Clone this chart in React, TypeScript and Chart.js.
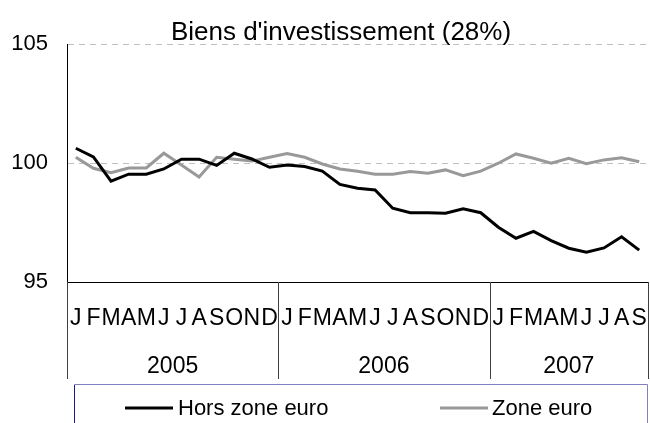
import React, { useEffect, useRef } from "react";
import { Chart, registerables } from "chart.js";

Chart.register(...registerables);

const TITLE = "Biens d'investissement (28%)";
const MONTHS = ["J", "F", "M", "A", "M", "J", "J", "A", "S", "O", "N", "D"];
const YEARS = ["2005", "2006", "2007"];
const MONTHS_PER_YEAR = [12, 12, 9];
const Y_TICKS = [95, 100, 105];

const horsZoneEuro = [
  100.62, 100.26, 99.24, 99.53, 99.53, 99.75, 100.16, 100.16, 99.9, 100.41, 100.17, 99.82,
  99.92, 99.85, 99.66, 99.1, 98.94, 98.87, 98.1, 97.91, 97.91, 97.89, 98.08, 97.91,
  97.3, 96.84, 97.13, 96.74, 96.42, 96.25, 96.43, 96.9, 96.34,
];
const zoneEuro = [
  100.24, 99.78, 99.59, 99.79, 99.79, 100.41, 99.92, 99.41, 100.24, 100.16, 100.08, 100.24,
  100.4, 100.24, 99.96, 99.75, 99.65, 99.53, 99.53, 99.64, 99.57, 99.71, 99.47, 99.66,
  99.99, 100.38, 100.2, 99.99, 100.2, 99.97, 100.13, 100.22, 100.05,
];
const SERIES_NAMES = ["Hors zone euro", "Zone euro"];

const labels: string[] = [];
YEARS.forEach((y, yi) => {
  for (let m = 0; m < MONTHS_PER_YEAR[yi]; m++) labels.push(MONTHS[m] + " " + y);
});

const FONT = '"Liberation Sans", Arial, sans-serif';

const deco = {
  id: "deco",
  afterDraw(chart: any) {
    const ctx = chart.ctx;
    const xs = chart.scales.x;
    const area = chart.chartArea;
    ctx.save();
    ctx.fillStyle = "#000";
    // title
    ctx.font = "26px " + FONT;
    ctx.textAlign = "center";
    ctx.textBaseline = "alphabetic";
    ctx.fillText(TITLE, 341, 40);
    // month labels
    ctx.font = "23px " + FONT;
    let idx = 0;
    const bounds: number[] = [area.left];
    YEARS.forEach((y, yi) => {
      const start = idx;
      for (let m = 0; m < MONTHS_PER_YEAR[yi]; m++) {
        ctx.fillText(MONTHS[m], xs.getPixelForValue(idx), 325);
        idx++;
      }
      const end = idx - 1;
      const half = (xs.getPixelForValue(1) - xs.getPixelForValue(0)) / 2;
      const right = xs.getPixelForValue(end) + half;
      bounds.push(right);
      const left = xs.getPixelForValue(start) - half;
      ctx.fillText(y, (left + right) / 2, 373);
    });
    // separators
    ctx.strokeStyle = "#404040";
    ctx.lineWidth = 1;
    bounds.forEach((b) => {
      const x = Math.round(b) + 0.5;
      ctx.beginPath();
      ctx.moveTo(x, area.bottom);
      ctx.lineTo(x, 379);
      ctx.stroke();
    });
    // legend box
    ctx.strokeStyle = "#8080c0";
    ctx.beginPath();
    ctx.moveTo(74.5, 430);
    ctx.lineTo(74.5, 384.5);
    ctx.lineTo(647.5, 384.5);
    ctx.lineTo(647.5, 430);
    ctx.stroke();
    ctx.strokeStyle = "#1a1a8c";
    ctx.beginPath();
    ctx.moveTo(74.5, 385);
    ctx.lineTo(74.5, 430);
    ctx.stroke();
    // legend entries
    const items = [
      { x0: 125, x1: 173, tx: 178, color: "#000000", name: SERIES_NAMES[0] },
      { x0: 440, x1: 488, tx: 492, color: "#999999", name: SERIES_NAMES[1] },
    ];
    ctx.font = "22px " + FONT;
    ctx.textAlign = "left";
    items.forEach((it) => {
      ctx.strokeStyle = it.color;
      ctx.lineWidth = 3;
      ctx.beginPath();
      ctx.moveTo(it.x0, 408);
      ctx.lineTo(it.x1, 408);
      ctx.stroke();
      ctx.fillStyle = "#000";
      ctx.fillText(it.name, it.tx, 415);
    });
    ctx.restore();
  },
};

export default function App() {
  const ref = useRef<HTMLCanvasElement>(null);
  useEffect(() => {
    document.body.style.margin = "0";
    const chart = new Chart(ref.current as HTMLCanvasElement, {
      type: "line",
      data: {
        labels,
        datasets: [
          {
            label: SERIES_NAMES[0],
            data: horsZoneEuro,
            borderColor: "#000000",
            borderWidth: 3,
            pointRadius: 0,
            tension: 0,
          },
          {
            label: SERIES_NAMES[1],
            data: zoneEuro,
            borderColor: "#999999",
            borderWidth: 3,
            pointRadius: 0,
            tension: 0,
          },
        ],
      },
      options: {
        responsive: false,
        animation: false,
        layout: { padding: { top: 44, right: 2, left: 0, bottom: 0 } },
        plugins: { legend: { display: false }, title: { display: false }, tooltip: { enabled: false } },
        scales: {
          x: {
            type: "category",
            offset: true,
            grid: { display: false },
            border: { display: true, color: "#000", width: 1 },
            ticks: { display: false },
            afterFit: (s: any) => {
              s.height = 141;
            },
          },
          y: {
            min: 95,
            max: 105,
            afterBuildTicks: (s: any) => {
              s.ticks = Y_TICKS.map((v) => ({ value: v }));
            },
            grid: {
              drawTicks: false,
              color: (c: any) => (c.tick && c.tick.value === 95 ? "rgba(0,0,0,0)" : "#c0c0c0"),
              lineWidth: 1,
            },
            border: { display: true, color: "#000", width: 1, dash: [6, 5] },
            ticks: {
              color: "#000",
              font: { family: FONT, size: 22 },
              padding: 19,
            },
            afterFit: (s: any) => {
              s.width = 67;
            },
          },
        },
      },
      plugins: [deco],
    });
    return () => chart.destroy();
  }, []);
  return <canvas ref={ref} width={650} height={423} style={{ display: "block" }} />;
}
